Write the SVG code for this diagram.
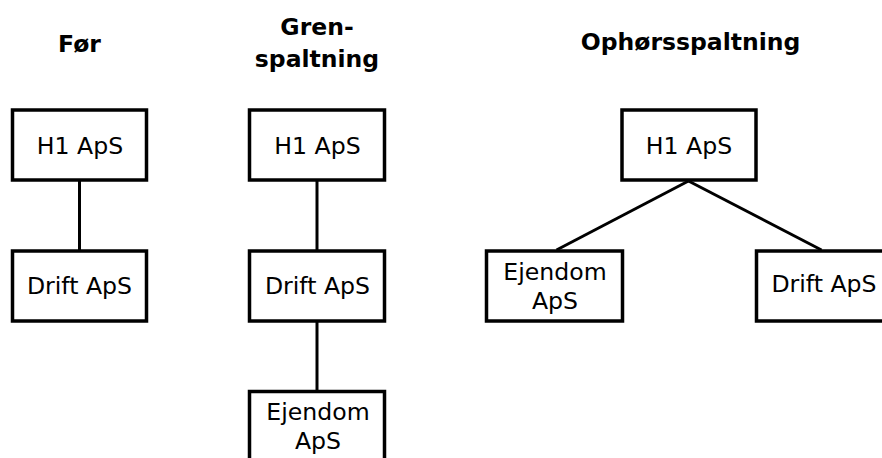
<svg xmlns="http://www.w3.org/2000/svg" width="882" height="458" viewBox="0 0 882 458">
<style>
.box{fill:#fff;stroke:#000;stroke-width:3.5}
.lbl{font-family:"DejaVu Sans",Verdana,sans-serif;font-size:23.6px;fill:#000;text-anchor:middle}
.ttl{font-family:"DejaVu Sans",Verdana,sans-serif;font-size:23.5px;font-weight:bold;fill:#000;text-anchor:middle}
.con{stroke:#000;stroke-width:3;fill:none}
</style>
<rect width="882" height="458" fill="#fff"/>
<g id="titles">
<text class="ttl" x="79.5" y="51.5">Før</text>
<text class="ttl" x="317" y="35">Gren-</text>
<text class="ttl" x="317" y="66.5">spaltning</text>
<text class="ttl" x="690.5" y="49.5">Ophørsspaltning</text>
</g>
<g id="connectors">
<line class="con" x1="79.5" y1="181" x2="79.5" y2="250"/>
<line class="con" x1="317" y1="181" x2="317" y2="250"/>
<line class="con" x1="317" y1="322" x2="317" y2="391"/>
<line class="con" x1="688.5" y1="181" x2="556.5" y2="250"/>
<line class="con" x1="688.5" y1="181" x2="821.5" y2="250"/>
</g>
<g id="foer-h1"><rect class="box" x="12.5" y="110" width="134" height="70"/><text class="lbl" x="80" y="153.5">H1 ApS</text></g>
<g id="foer-drift"><rect class="box" x="12.5" y="251" width="134" height="70"/><text class="lbl" x="79.5" y="293.5">Drift ApS</text></g>
<g id="gren-h1"><rect class="box" x="249.5" y="110" width="135" height="70"/><text class="lbl" x="317.5" y="153.5">H1 ApS</text></g>
<g id="gren-drift"><rect class="box" x="249.5" y="251" width="135" height="70"/><text class="lbl" x="317.5" y="293.5">Drift ApS</text></g>
<g id="gren-ejendom"><rect class="box" x="249.5" y="391.5" width="135" height="80"/><text class="lbl" x="318" y="419.5">Ejendom</text><text class="lbl" x="318" y="448.5">ApS</text></g>
<g id="ophoer-h1"><rect class="box" x="622" y="110" width="134" height="70"/><text class="lbl" x="689" y="153.5">H1 ApS</text></g>
<g id="ophoer-ejendom"><rect class="box" x="486.5" y="251" width="136" height="70"/><text class="lbl" x="555" y="279.5">Ejendom</text><text class="lbl" x="555" y="308.5">ApS</text></g>
<g id="ophoer-drift"><rect class="box" x="756.5" y="251" width="140" height="70"/><text class="lbl" x="824" y="292">Drift ApS</text></g>
</svg>
